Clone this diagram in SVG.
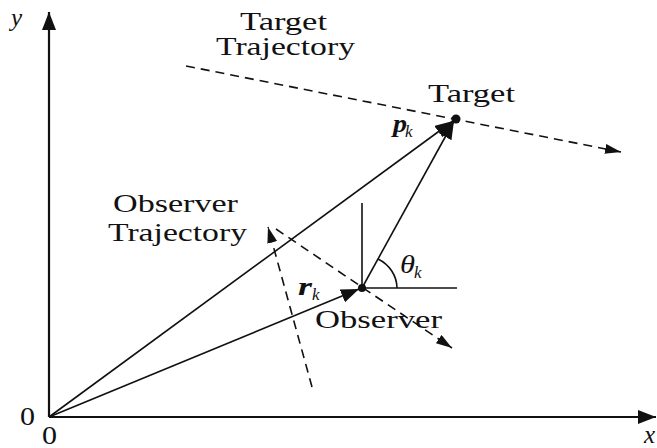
<svg xmlns="http://www.w3.org/2000/svg" width="657" height="448" viewBox="0 0 657 448">
<style>
.t{font-family:"Liberation Serif","Times New Roman",serif;font-size:25px;fill:#111}
.i{font-style:italic}
.b{font-weight:bold}
.sub{font-size:17px}
.solid{stroke:#111;stroke-width:1.6;fill:none}
.axis{stroke:#111;stroke-width:2.2;fill:none}
.dash{stroke:#111;stroke-width:1.6;fill:none;stroke-dasharray:9 6}
</style>
<defs>
<marker id="ah" markerUnits="userSpaceOnUse" markerWidth="20" markerHeight="16" refX="18" refY="7" orient="auto">
<path d="M0,0 L18,7 L0,14 Z" fill="#111"/>
</marker>
<marker id="ahs" markerUnits="userSpaceOnUse" markerWidth="18" markerHeight="12" refX="16" refY="5" orient="auto">
<path d="M0,0 L16,5 L0,10 Z" fill="#111"/>
</marker>
</defs>
<g id="axes">
<line class="axis" x1="49" y1="417" x2="49" y2="12" marker-end="url(#ah)"/>
<line class="axis" x1="49" y1="417" x2="656" y2="417" marker-end="url(#ah)"/>
</g>
<g id="connectors">
<line class="dash" x1="186" y1="66" x2="621" y2="152" marker-end="url(#ahs)"/>
<line class="dash" x1="312" y1="387" x2="268" y2="227" marker-end="url(#ahs)"/>
<line class="dash" x1="276" y1="229" x2="452" y2="348" marker-end="url(#ahs)"/>
<line class="solid" x1="49" y1="417" x2="453" y2="121" marker-end="url(#ah)"/>
<line class="solid" x1="362" y1="288" x2="454" y2="121" marker-end="url(#ah)"/>
<line class="solid" x1="49" y1="417" x2="359" y2="289" marker-end="url(#ah)"/>
<line class="solid" x1="362" y1="288" x2="362" y2="203"/>
<line class="solid" x1="362" y1="288" x2="457" y2="288"/>
<path class="solid" d="M397,288 A35,33 0 0 0 378,259"/>
</g>
<g id="target">
<circle cx="456" cy="119" r="4.5" fill="#111"/>
<text class="t" x="428" y="102" textLength="87" lengthAdjust="spacingAndGlyphs">Target</text>
</g>
<g id="observer">
<circle cx="362" cy="288" r="4" fill="#111"/>
<text class="t" x="315" y="328" textLength="127" lengthAdjust="spacingAndGlyphs">Observer</text>
</g>
<g id="labels">
<text class="t" x="240" y="30" textLength="87" lengthAdjust="spacingAndGlyphs">Target</text>
<text class="t" x="216" y="55" textLength="139" lengthAdjust="spacingAndGlyphs">Trajectory</text>
<text class="t" x="113" y="212" textLength="125" lengthAdjust="spacingAndGlyphs">Observer</text>
<text class="t" x="108" y="241" textLength="139" lengthAdjust="spacingAndGlyphs">Trajectory</text>
<text class="t i b" x="393" y="132" textLength="14" lengthAdjust="spacingAndGlyphs">p</text><text class="t i sub" x="405" y="137">k</text>
<text class="t i b" x="298" y="295" textLength="14" lengthAdjust="spacingAndGlyphs">r</text><text class="t i sub" x="312" y="300">k</text>
<text class="t i" x="400" y="273" textLength="15" lengthAdjust="spacingAndGlyphs">θ</text><text class="t i sub" x="414" y="278">k</text>
<text class="t i" x="11" y="26">y</text>
<text class="t i" x="644" y="443">x</text>
<text class="t" x="20" y="425" textLength="15" lengthAdjust="spacingAndGlyphs">0</text>
<text class="t" x="42" y="444" textLength="15" lengthAdjust="spacingAndGlyphs">0</text>
</g>
</svg>
